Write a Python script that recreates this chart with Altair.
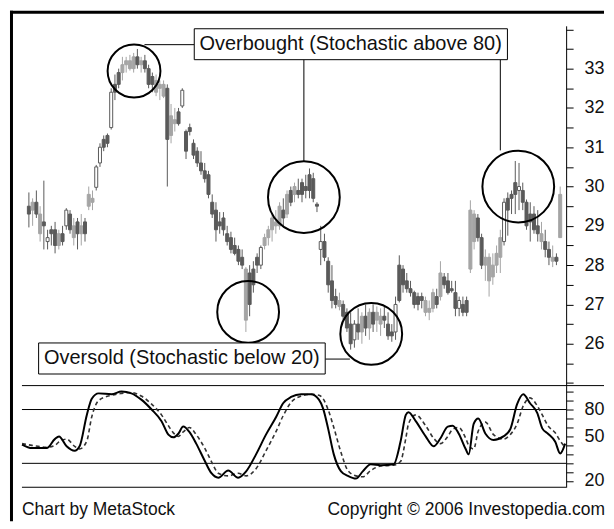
import altair as alt
import pandas as pd

# ---------------- price candles (one per trading day) ----------------
opens = [29.5, 29.4, 29.6, 29.3, 29.0, 28.6, 28.8, 28.9, 28.5, 28.8, 29.0,
         29.3, 29.0, 28.8, 29.0, 28.8,
         29.5, 29.7, 29.98, 30.6, 31.0, 31.1, 31.5, 32.4, 32.6,
         32.9, 33.1, 33.2, 33.0, 33.3, 33.1, 33.2, 33.0, 32.6, 32.7, 32.5, 32.6,
         32.5, 31.3, 31.6, 31.9, 32.05, 31.4, 31.5, 31.1, 30.9, 30.6, 30.4,
         30.3, 29.6, 29.4, 29.0, 29.2, 28.8, 28.7, 28.5, 28.4, 28.2,
         27.9, 27.8, 27.5, 28.0, 28.0,
         28.5, 28.7, 28.9, 29.1, 29.0, 29.4, 29.3, 29.6, 29.8, 29.9,
         29.8, 30.0, 29.9, 30.2, 29.55,
         28.4, 28.6, 28.1, 27.6, 27.2, 27.1, 27.0, 26.8,
         26.5, 26.1, 26.5, 26.3, 26.7, 26.4, 26.8, 26.6, 26.5, 26.7, 26.5, 26.2, 26.3,
         27.1, 27.9, 27.6, 27.4, 27.3, 27.0, 27.2, 27.1, 26.8, 26.9, 27.2, 27.2, 27.7, 27.6, 27.4, 27.3, 26.9, 27.0, 26.8,
         27.9, 29.3, 29.2, 28.7, 28.0, 28.2, 27.7, 28.0, 28.2,
         28.6, 29.4, 29.7, 29.8, 29.9, 29.9, 29.6, 29.1, 29.3,
         29.0, 28.8, 28.6, 28.4, 28.2, 28.1, 28.7]
highs = [29.85, 29.7, 29.9, 29.5, 30.15, 28.9, 29.0, 29.1, 28.9, 29.0, 29.45,
         29.4, 29.2, 29.2, 29.3, 29.2,
         30.0, 29.9, 30.55, 31.1, 31.3, 31.35, 32.5, 32.85, 33.0,
         33.3, 33.3, 33.35, 33.4, 33.5, 33.3, 33.35, 33.1, 32.9, 32.85, 32.7, 32.7,
         32.6, 32.1, 32.0, 32.0, 32.5, 31.45, 31.6, 31.2, 31.0, 30.9, 30.6,
         30.4, 29.8, 29.6, 29.35, 29.35, 29.0, 28.85, 28.7, 28.5, 28.4,
         27.95, 28.0, 28.1, 28.3, 28.5,
         28.8, 29.0, 29.3, 29.4, 29.6, 29.7, 29.9, 30.0, 30.1, 30.2,
         30.2, 30.3, 30.46, 30.35, 29.6,
         29.0, 28.8, 28.2, 28.0, 27.4, 27.3, 27.1, 26.9,
         26.8, 26.6, 26.9, 26.8, 27.0, 26.9, 27.0, 26.95, 26.9, 26.95, 26.8, 26.5, 27.2,
         28.25, 28.0, 27.8, 27.6, 27.35, 27.3, 27.3, 27.2, 27.1, 27.4, 27.4, 28.1, 27.8, 27.8, 27.6, 27.6, 27.2, 27.2, 27.2,
         29.65, 29.4, 29.3, 28.8, 28.4, 28.3, 28.3, 28.5, 28.9,
         29.7, 29.85, 29.9, 30.65, 30.6, 30.1, 29.67, 29.6, 29.5,
         29.4, 29.1, 28.9, 28.6, 28.5, 28.3, 30.0]
lows = [28.96, 29.0, 29.2, 28.6, 28.4, 28.4, 28.5, 28.3, 28.4, 28.5, 28.9,
        28.8, 28.5, 28.4, 28.5, 28.6,
        29.4, 29.4, 29.9, 30.5, 30.9, 31.0, 31.45, 32.2, 32.5,
        32.7, 32.9, 32.95, 32.9, 33.0, 32.9, 32.9, 32.5, 32.4, 32.3, 32.2, 32.25,
        30.0, 31.1, 31.4, 31.55, 32.0, 30.7, 31.3, 30.7, 30.5, 30.3, 30.1,
        29.7, 29.2, 28.6, 28.8, 28.75, 28.5, 28.3, 28.25, 28.0, 27.9,
        26.3, 26.7, 27.3, 27.8, 27.9,
        28.4, 28.5, 28.6, 28.8, 28.9, 29.0, 29.2, 29.5, 29.6, 29.7,
        29.6, 29.7, 29.7, 29.6, 29.35,
        28.0, 28.1, 27.3, 26.9, 26.9, 26.85, 26.6, 26.3,
        25.85, 25.9, 26.1, 26.0, 26.2, 26.1, 26.3, 26.3, 26.2, 26.4, 26.1, 26.05, 26.1,
        27.05, 27.3, 27.3, 27.2, 26.9, 26.85, 26.9, 26.7, 26.6, 26.8, 26.9, 27.1, 27.4, 27.25, 27.3, 26.7, 26.7, 26.7, 26.7,
        27.8, 28.4, 28.6, 27.9, 27.6, 27.2, 27.5, 27.8, 27.8,
        28.5, 28.75, 29.3, 29.3, 29.4, 29.4, 28.9, 28.6, 28.8,
        28.6, 28.4, 28.2, 28.0, 27.95, 28.0, 28.7]
closes = [29.3, 29.6, 29.3, 28.8, 29.1, 28.7, 28.9, 28.5, 28.8, 28.6, 29.4,
          28.9, 28.7, 29.1, 28.8, 29.1,
          29.8, 29.6, 30.5, 31.0, 31.2, 31.3, 32.4, 32.6, 32.9,
          33.1, 33.2, 33.0, 33.3, 33.1, 33.2, 33.0, 32.6, 32.8, 32.4, 32.6, 32.3,
          31.2, 31.8, 31.7, 31.6, 32.45, 30.9, 31.4, 30.8, 30.6, 30.4, 30.2,
          29.8, 29.3, 28.9, 29.1, 28.9, 28.6, 28.4, 28.3, 28.1, 28.0,
          26.6, 27.0, 27.9, 28.2, 28.45,
          28.7, 28.9, 29.2, 29.0, 29.5, 29.2, 29.8, 29.9, 30.0, 29.8,
          30.1, 29.9, 30.3, 29.7, 29.5,
          28.6, 28.2, 27.5, 27.1, 27.0, 26.95, 26.7, 26.4,
          26.0, 26.5, 26.3, 26.7, 26.4, 26.8, 26.5, 26.8, 26.7, 26.6, 26.2, 26.3, 27.0,
          28.0, 27.5, 27.4, 27.3, 27.0, 27.2, 27.1, 26.8, 26.9, 27.3, 27.0, 27.8, 27.5, 27.3, 27.35, 26.9, 27.1, 26.8, 27.1,
          29.4, 28.6, 28.7, 28.0, 28.2, 27.6, 28.0, 28.3, 28.7,
          29.6, 29.7, 29.8, 30.1, 30.0, 29.6, 29.0, 29.3, 28.9,
          28.8, 28.6, 28.4, 28.2, 28.1, 28.2, 29.8]
# d = dark filled body, l = light filled body, h = hollow body
shades = list("dldldhddldh" "dldld" "llhhddhdd" "lllldldddlll" "dlldhdddddd"
              "dddddddddd" "ldddh" "llllldldld" "ddddd" "hddddldd"
              "dhdldldllddd" "h" "dddddddllldlddddhdd" "llddlllll" "hdddhdddd" "dlddldl")

# ---------------- stochastic oscillator (read at sample days) ----------------
stoch_day = [-0.5, 2.1, 6.0, 8.1, 9.2, 11.2, 13.3, 14.6, 16.5, 17.8, 19.6, 23.0, 25.6, 28.2,
             30.8, 33.5, 36.1, 37.9, 39.2, 40.5, 41.8, 43.4, 45.2, 47.3, 49.2, 51.0, 53.6,
             56.2, 58.3, 60.9, 63.5, 66.2, 68.0, 70.1, 72.7, 75.3, 77.4, 78.5, 79.8, 81.3,
             83.2, 85.0, 87.1, 88.9, 91.0, 93.6, 97.0, 98.8, 100.2, 100.9, 102.8, 105.4,
             107.5, 109.3, 111.2, 112.5, 114.1, 115.9, 116.7, 118.0, 119.2, 121.1, 123.2,
             125.8, 127.6, 129.4, 131.0, 132.8, 134.7, 136.0, 137.5, 139.4, 140.7, 142.0]
stoch_k = [41, 37, 37, 47, 50, 39, 34, 39, 74, 92, 98, 97, 100, 98, 91, 80, 67, 52, 49, 53,
           61, 55, 42, 24, 9, 4, 12, 4, 11, 30, 52, 72, 87, 94, 97, 97, 91, 81, 59, 30,
           11, 6, 3, 11, 19, 18, 19, 44, 74, 77, 67, 50, 39, 48, 61, 62, 53, 36, 30, 64,
           70, 53, 46, 50, 58, 86, 97, 87, 76, 59, 53, 44, 31, 42]
stoch_d = [42, 40, 38, 40, 44, 47, 39, 36, 45, 72, 90, 96, 98, 99, 95, 86, 74, 62, 54, 50,
           55, 60, 52, 38, 22, 9, 6, 9, 6, 14, 34, 56, 73, 88, 95, 97, 96, 92, 80, 60,
           32, 12, 6, 5, 12, 17, 18, 22, 48, 64, 74, 62, 48, 42, 50, 58, 60, 48, 40, 36,
           56, 66, 52, 47, 52, 64, 84, 93, 84, 74, 62, 54, 45, 38]
stoch_levels = [80, 20]

# axis ticks / labels
price_ticks = [25, 25.5, 26, 26.5, 27, 27.5, 28, 28.5, 29, 29.5, 30, 30.5, 31, 31.5,
               32, 32.5, 33, 33.5, 34]
stoch_ticks = [0, 10, 20, 30, 40, 50, 60, 70, 80, 90, 100]

# annotations (in day / price units)
ob_text = "Overbought (Stochastic above 80)"
os_text = "Oversold (Stochastic below 20)"

n = len(opens)
assert n == len(highs) == len(lows) == len(closes) == len(shades)
assert len(stoch_day) == len(stoch_k) == len(stoch_d)

bars = pd.DataFrame({"day": list(range(n)), "open": opens, "high": highs,
                     "low": lows, "close": closes, "shade": shades})
stoch = pd.DataFrame({"day": stoch_day, "k": stoch_k, "d": stoch_d})

FONT = "Liberation Sans"
W, H1, H2 = 546, 361, 102
xs = alt.Scale(domain=[-0.52, 142.26], nice=False, zero=False)
ps = alt.Scale(domain=[24.935, 34.09], nice=False, zero=False)
ss = alt.Scale(domain=[-6.67, 106.67], nice=False, zero=False)

shade_dom = ["d", "l", "h"]
line_col = alt.Scale(domain=shade_dom, range=["#5a5a5a", "#a5a5a5", "#5a5a5a"])
fill_col = alt.Scale(domain=shade_dom, range=["#5a5a5a", "#a5a5a5", "#ffffff"])

price_axis = alt.Axis(orient="right", values=price_ticks, title=None,
                      labelExpr="(datum.value % 1 == 0 && datum.value >= 26 && datum.value <= 33) ? format(datum.value, 'd') : ''",
                      tickSize=7, labelPadding=11, domainColor="black", tickColor="black",
                      labelFont=FONT, labelFontSize=18, labelColor="#111", grid=False)
stoch_axis = alt.Axis(orient="right", values=stoch_ticks, title=None,
                      labelExpr="(datum.value == 80 || datum.value == 50 || datum.value == 20) ? datum.label : ''",
                      labelOffset={"condition": {"test": "datum.value == 20", "value": 17}, "value": 0},
                      tickSize=7, labelPadding=11, domainColor="black", tickColor="black",
                      labelFont=FONT, labelFontSize=18, labelColor="#111", grid=False)

def X(field):
    return alt.X(field, scale=xs, axis=None)

def PY(field):
    return alt.Y(field, scale=ps, axis=price_axis)

def SY(field):
    return alt.Y(field, scale=ss, axis=stoch_axis)

wicks = alt.Chart(bars).mark_rule(strokeWidth=1).encode(
    x=X("day:Q"), y=PY("low:Q"), y2="high:Q",
    color=alt.Color("shade:N", scale=line_col, legend=None),
)
bodies = alt.Chart(bars).mark_bar(size=3, strokeWidth=1).encode(
    x=X("day:Q"), y=PY("open:Q"), y2="close:Q",
    fill=alt.Fill("shade:N", scale=fill_col, legend=None),
    stroke=alt.Stroke("shade:N", scale=line_col, legend=None),
)

connectors = pd.DataFrame({
    "x1": [30.9, 73.5, 126.0, 79.2],
    "x2": [44.2, 73.5, 126.0, 85.8],
    "y1": [33.61, 33.23, 33.23, 25.61],
    "y2": [33.61, 30.64, 30.92, 25.61],
})
conn = alt.Chart(connectors).mark_rule(color="black", strokeWidth=1).encode(
    x=X("x1:Q"), x2="x2:Q", y=PY("y1:Q"), y2="y2:Q")

circ_big = pd.DataFrame({"day": [73.5, 130.8], "price": [29.73, 30.0]})
circ_mid = pd.DataFrame({"day": [58.6, 91.5], "price": [26.81, 26.25]})
circ_small = pd.DataFrame({"day": [28.1], "price": [32.94]})

def circles(df, diam):
    return alt.Chart(df).mark_point(shape="circle", filled=False, color="black",
                                    strokeWidth=2, opacity=1).encode(
        x=X("day:Q"), y=PY("price:Q"), size=alt.value(diam * diam))

boxes = pd.DataFrame({"x1": [44.2, 2.6], "x2": [127.9, 79.2],
                      "y1": [34.015, 26.02], "y2": [33.228, 25.23]})
box = alt.Chart(boxes).mark_rect(fill="white", stroke="black", strokeWidth=1).encode(
    x=X("x1:Q"), x2="x2:Q", y=PY("y1:Q"), y2="y2:Q")

labels = pd.DataFrame({"day": [86.0, 40.9], "price": [33.62, 25.625],
                       "txt": [ob_text, os_text]})
label = alt.Chart(labels).mark_text(font=FONT, fontSize=20, color="#111",
                                    align="center", baseline="middle").encode(
    x=X("day:Q"), y=PY("price:Q"), text="txt:N")

one = pd.DataFrame({"a": [0]})
frame_top = alt.Chart(one).mark_rule(color="black", strokeWidth=3).encode(
    x=alt.value(-12), x2=alt.value(584), y=alt.value(-13.5))
frame_left = alt.Chart(one).mark_rule(color="black", strokeWidth=3).encode(
    x=alt.value(-10.5), y=alt.value(-15), y2=alt.value(497))

price = alt.layer(wicks, bodies, conn, circles(circ_big, 72), circles(circ_mid, 62),
                  circles(circ_small, 53), box, label, frame_top, frame_left
                  ).properties(width=W, height=H1)

# ---------------- stochastic panel ----------------
k_line = alt.Chart(stoch).mark_line(color="black", strokeWidth=2, interpolate="monotone").encode(
    x=X("day:Q"), y=SY("k:Q"))
d_line = alt.Chart(stoch).mark_line(color="#333", strokeWidth=1.6, strokeDash=[4, 3],
                                    interpolate="monotone").encode(
    x=X("day:Q"), y=SY("d:Q"))
levels = alt.Chart(pd.DataFrame({"lvl": stoch_levels})).mark_rule(color="black", strokeWidth=1).encode(
    y=SY("lvl:Q"))
top_line = alt.Chart(one).mark_rule(color="black", strokeWidth=1).encode(
    x=alt.value(0), x2=alt.value(584), y=alt.value(0))
bottom_line = alt.Chart(one).mark_rule(color="black", strokeWidth=1).encode(
    x=alt.value(0), x2=alt.value(W), y=alt.value(H2))
credit_l = alt.Chart(one).mark_text(text="Chart by MetaStock", font=FONT, fontSize=17.5,
                                    color="#111", align="left", baseline="alphabetic").encode(
    x=alt.value(0), y=alt.value(130))
credit_r = alt.Chart(one).mark_text(text="Copyright \u00a9 2006 Investopedia.com", font=FONT,
                                    fontSize=17.5, color="#111", align="right",
                                    baseline="alphabetic").encode(
    x=alt.value(585), y=alt.value(130))

stoch_panel = alt.layer(levels, top_line, bottom_line, d_line, k_line, credit_l, credit_r
                        ).properties(width=W, height=H2)

chart = alt.VConcatChart(vconcat=[price, stoch_panel], spacing=0, bounds="flush",
                         padding=0).configure_view(strokeWidth=0)

chart.save("out.html", embed_options={"renderer": "svg", "actions": False})
